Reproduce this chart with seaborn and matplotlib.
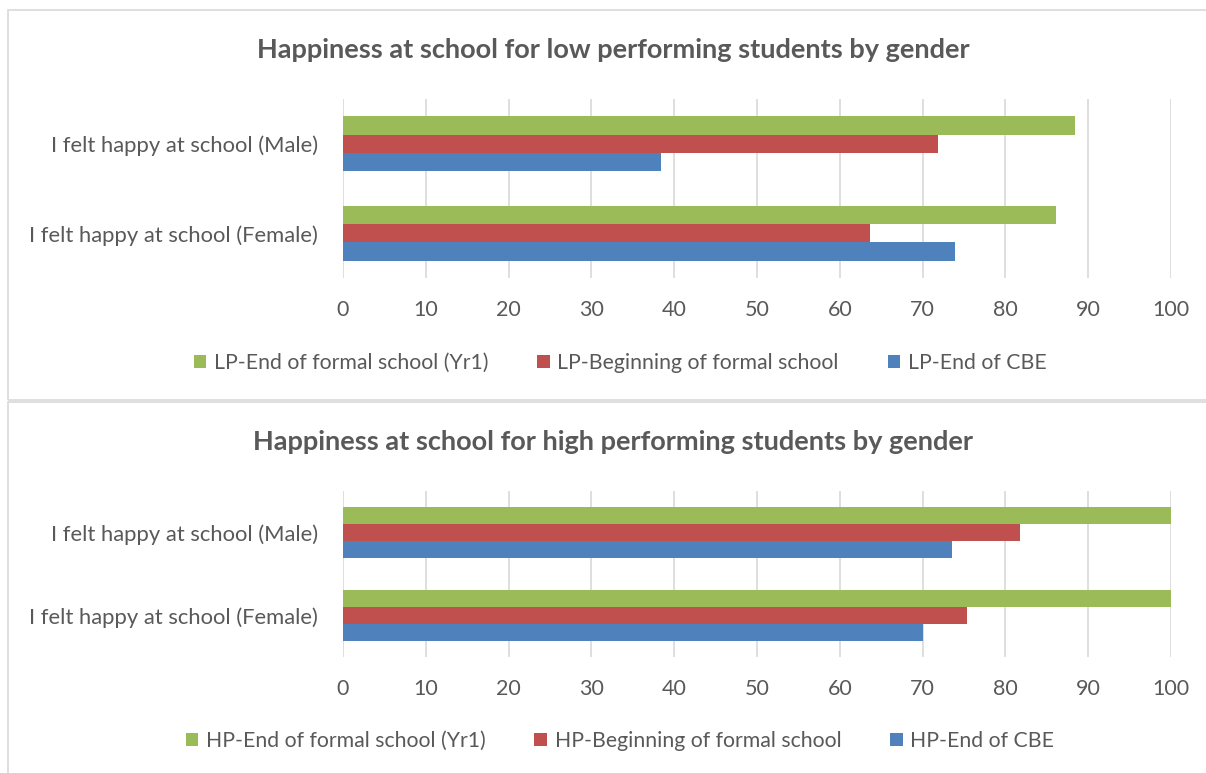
import matplotlib
matplotlib.use("Agg")
import matplotlib.pyplot as plt
from matplotlib.patches import Rectangle, Patch
import pandas as pd
import seaborn as sns

# data
items = ["I felt happy at school (Male)", "I felt happy at school (Female)"]
lp_series = ["LP-End of formal school (Yr1)", "LP-Beginning of formal school", "LP-End of CBE"]
hp_series = ["HP-End of formal school (Yr1)", "HP-Beginning of formal school", "HP-End of CBE"]
lp_end_formal = [88.4, 86.1]
lp_begin_formal = [71.8, 63.6]
lp_end_cbe = [38.4, 73.9]
hp_end_formal = [100.0, 100.0]
hp_begin_formal = [81.8, 75.4]
hp_end_cbe = [73.5, 70.0]
x_ticks = [0, 10, 20, 30, 40, 50, 60, 70, 80, 90, 100]

colors = ["#9BBB59", "#C0504D", "#4F81BD"]
txt = "#595959"

sns.set_theme(style="white")
plt.rcParams["font.family"] = ["Lato", "DejaVu Sans"]


def long_df(series, values):
    rows = []
    for s, vals in zip(series, values):
        for it, v in zip(items, vals):
            rows.append({"item": it, "series": s, "value": v})
    return pd.DataFrame(rows)


lp = long_df(lp_series, [lp_end_formal, lp_begin_formal, lp_end_cbe])
hp = long_df(hp_series, [hp_end_formal, hp_begin_formal, hp_end_cbe])

fig = plt.figure(figsize=(12.06, 7.73), dpi=100)
W, H = 1206, 773

# panel frames like the two stacked excel charts
fig.patches.append(Rectangle((8 / W, 1 - 400 / H), 1.2, 390 / H, transform=fig.transFigure,
                             fill=False, edgecolor="#d9d9d9", lw=1.2))
fig.patches.append(Rectangle((8 / W, -0.1), 1.2, 1 - 402 / H + 0.1, transform=fig.transFigure,
                             fill=False, edgecolor="#d9d9d9", lw=1.2))

panels = [
    (lp, lp_series, "Happiness at school for low performing students by gender", 99, 278, 50, 363),
    (hp, hp_series, "Happiness at school for high performing students by gender", 491, 657, 442, 741),
]

for df, series, title, top, bot, ty, ly in panels:
    ax = fig.add_axes([343 / W, 1 - bot / H, 828 / W, (bot - top) / H])
    sns.barplot(data=df, x="value", y="item", hue="series", order=items, hue_order=series,
                palette=colors, orient="h", width=0.62, gap=0, saturation=1,
                linewidth=0, legend=False, ax=ax)
    ax.set_xlim(0, 100)
    ax.set_xticks(x_ticks)
    ax.set_ylim(1.5, -0.5)
    ax.xaxis.grid(True, color="#d9d9d9", lw=1.2)
    ax.set_axisbelow(True)
    for sp in ax.spines.values():
        sp.set_visible(False)
    ax.set_xlabel("")
    ax.set_ylabel("")
    ax.tick_params(axis="x", length=0, pad=16, labelsize=15.5, labelcolor=txt)
    ax.tick_params(axis="y", length=0, pad=18, labelsize=15.8, labelcolor=txt)
    fig.text(613 / W, 1 - ty / H, title, ha="center", va="center", fontsize=19.5,
             fontweight="bold", color=txt)
    handles = [Patch(facecolor=c, edgecolor="none") for c in colors]
    fig.legend(handles, series, loc="center", bbox_to_anchor=(620 / W, 1 - ly / H), ncol=3,
               frameon=False, fontsize=15.3, labelcolor=txt, handlelength=0.6,
               handleheight=0.6, handletextpad=0.35, columnspacing=2.3)

fig.savefig("out.png", dpi=100)
